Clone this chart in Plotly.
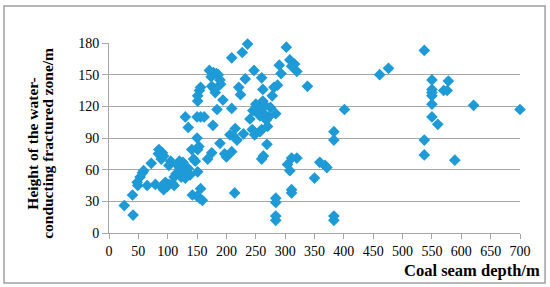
import plotly.graph_objects as go

# Coal seam depth (m) and height of water-conducting fractured zone (m)
depth = [26, 40, 41, 48, 49, 53, 57, 59, 65, 72, 79, 85, 84, 89, 91, 93, 89, 93, 96, 99,
         102, 105, 108, 111, 111, 114, 117, 120, 121, 123, 126, 129, 130, 130, 135, 135, 138, 141, 142, 144,
         147, 150, 150, 151, 151, 151, 151, 154, 156, 156, 156, 159, 154, 150, 153, 162, 168, 171, 174, 175,
         177, 175, 178, 180, 181, 183, 184, 186, 189, 190, 189, 194, 197, 200, 209, 209, 206, 209, 214, 212,
         215, 218, 221, 224, 227, 229, 232, 236, 240, 244, 245, 248, 247, 250, 254, 257, 260, 262, 262, 260,
         263, 264, 266, 268, 269, 270, 272, 257, 260, 275, 278, 281, 284, 287, 290, 293, 284, 284, 284, 284,
         302, 308, 311, 316, 320, 304, 308, 311, 320, 311, 311, 338, 350, 359, 368, 371, 383, 383, 383, 383,
         401, 461, 476, 537, 537, 537, 550, 550, 550, 550, 550, 550, 560, 570, 576, 578, 589, 621, 700,
         96, 102, 126, 132, 255, 265, 252]
height = [26, 36, 17, 48, 45, 53, 57, 59, 45, 66, 46, 79, 75, 70, 76, 73, 44, 41, 46, 44,
          64, 68, 47, 53, 45, 56, 64, 68, 61, 53, 56, 58, 52, 110, 100, 61, 55, 79, 36, 70,
          68, 90, 35, 79, 58, 125, 130, 135, 138, 110, 42, 31, 33, 110, 82, 110, 70, 154, 148, 139,
          102, 76, 152, 136, 133, 151, 117, 150, 145, 141, 85, 126, 75, 72, 166, 118, 93, 77, 38, 92,
          99, 88, 138, 131, 171, 94, 146, 179, 108, 98, 116, 93, 154, 122, 113, 96, 147, 125, 136, 70,
          73, 113, 121, 107, 84, 101, 110, 111, 98, 119, 130, 138, 113, 140, 159, 151, 33, 29, 16, 12,
          176, 164, 158, 160, 153, 65, 59, 71, 71, 41, 38, 139, 52, 67, 64, 62, 96, 88, 16, 12,
          117, 150, 156, 173, 88, 74, 145, 136, 133, 130, 122, 110, 103, 135, 135, 144, 69, 121, 117,
          48, 46, 67, 61, 117, 110, 115]

x_ticks = list(range(0, 701, 50))
y_ticks = list(range(0, 181, 30))

fig = go.Figure()
fig.add_trace(go.Scatter(
    x=depth, y=height, mode="markers",
    marker=dict(symbol="diamond", size=9, color="#1E9BD7"),
    showlegend=False, cliponaxis=False,
))

fig.update_layout(
    width=550, height=287,
    margin=dict(l=109, r=30, t=43, b=54),
    paper_bgcolor="white", plot_bgcolor="white",
    font=dict(family="Liberation Serif", size=14, color="black"),
    shapes=[dict(type="rect", xref="paper", yref="paper",
                 x0=-0.2555, x1=1.061, y0=-0.263, y1=1.195,
                 line=dict(color="#A0A0A0", width=1.5), layer="above")],
)
fig.update_xaxes(
    range=[0, 700], tickvals=x_ticks, showgrid=False,
    showline=True, linecolor="#A6A6A6", linewidth=1,
    ticks="outside", ticklen=5, tickcolor="#A6A6A6",
    zeroline=False,
)
fig.update_yaxes(
    range=[0, 180], tickvals=y_ticks, showgrid=True, gridcolor="#A6A6A6", gridwidth=1,
    showline=True, linecolor="#A6A6A6", linewidth=1,
    ticks="outside", ticklen=6, tickcolor="#A6A6A6",
    zeroline=False,
)

# axis titles
fig.add_annotation(text="<b>Coal seam depth/m</b>", xref="paper", yref="paper",
                   x=1.0535, y=-0.195, xanchor="right", yanchor="middle",
                   showarrow=False, font=dict(size=16.5))
fig.add_annotation(text="<b>Height of the water-</b>", xref="paper", yref="paper",
                   x=-0.185, y=0.47, textangle=-90, xanchor="center", yanchor="middle",
                   showarrow=False, font=dict(size=15.5))
fig.add_annotation(text="<b>conducting fractured zone/m</b>", xref="paper", yref="paper",
                   x=-0.148, y=0.47, textangle=-90, xanchor="center", yanchor="middle",
                   showarrow=False, font=dict(size=15.5))

fig.write_html("out.html", config={"displayModeBar": False},
               post_script="document.body.style.margin='0';")
